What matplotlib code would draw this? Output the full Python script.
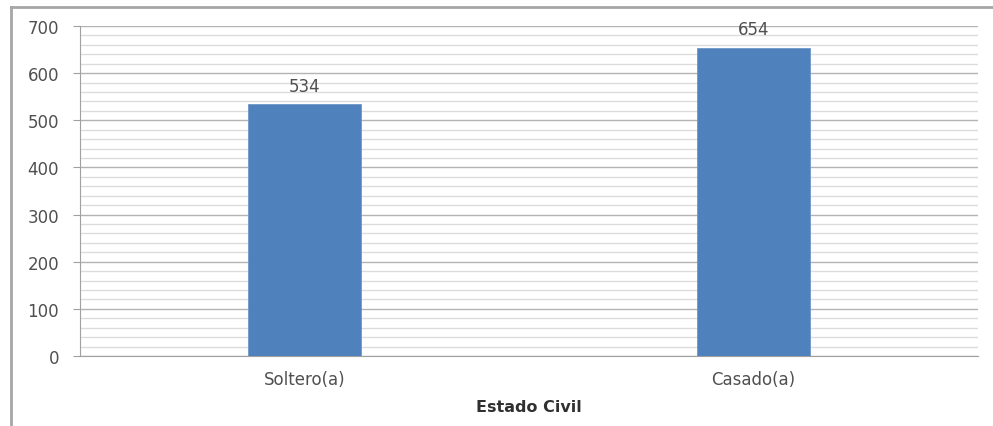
import matplotlib
matplotlib.use("Agg")
import matplotlib.pyplot as plt
from matplotlib.ticker import MultipleLocator
from matplotlib.lines import Line2D

categories = ["Soltero(a)", "Casado(a)"]
values = [534, 654]
y_ticks = [0, 100, 200, 300, 400, 500, 600, 700]
x_label = "Estado Civil"

plt.rcParams['font.family'] = ['DejaVu Sans']

fig = plt.figure(figsize=(9.93, 4.27), dpi=100)
ax = fig.add_axes([80/993, 1-357/427, (978-80)/993, (357-27)/427])

x = list(range(len(categories)))
bars = ax.bar(x, values, width=0.25, color="#4f81bd", edgecolor="#6f97c8", linewidth=0.6, zorder=3)
for xi, v in zip(x, values):
    ax.text(xi, v + 20, str(v), ha="center", va="bottom", fontsize=12, color="#505050")

ax.set_xlim(-0.5, len(categories) - 0.5)
ax.set_ylim(0, 700)
ax.set_yticks(y_ticks)
ax.yaxis.set_minor_locator(MultipleLocator(20))
ax.grid(axis="y", which="major", color="#b3b3b3", linewidth=1.0, zorder=0)
ax.grid(axis="y", which="minor", color="#dcdcdc", linewidth=1.0, zorder=0)
ax.set_xticks(x)
ax.set_xticklabels(categories, fontsize=12, color="#505050")
ax.tick_params(axis="y", which="major", length=5, color="#a0a0a0", labelsize=12, labelcolor="#505050", pad=10)
ax.tick_params(axis="y", which="minor", length=0)
ax.tick_params(axis="x", length=0, pad=10)
for s in ["top", "right"]:
    ax.spines[s].set_visible(False)
ax.spines["left"].set_color("#a0a0a0")
ax.spines["bottom"].set_color("#a0a0a0")
ax.set_xlabel(x_label, fontsize=11.5, fontweight="bold", color="#303030", labelpad=8)

# outer chart frame
fig.add_artist(Line2D([11/993, 11/993], [0, 1-8/427], transform=fig.transFigure, color="#a6a6a6", linewidth=2))
fig.add_artist(Line2D([11/993, 1], [1-8/427, 1-8/427], transform=fig.transFigure, color="#a6a6a6", linewidth=2))

fig.savefig("out.png", dpi=100)
